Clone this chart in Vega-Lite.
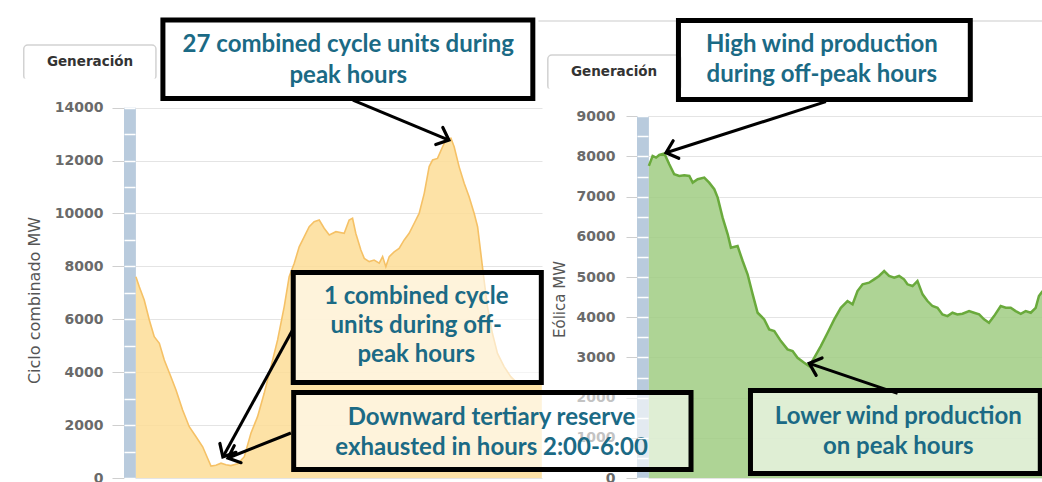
{
  "$schema": "https://vega.github.io/schema/vega-lite/v6.json",
  "autosize": {"type": "pad"},
  "padding": {"left": 22, "top": 17, "right": 0, "bottom": 0},
  "bounds": "flush",
  "spacing": 95,
  "background": "white",
  "config": {"view": {"stroke": null}, "font": "DejaVu Sans"},
  "datasets": {
    "left": [{"h":0,"v":7610},{"h":0.2,"v":7230},{"h":0.49,"v":6730},{"h":0.79,"v":5970},{"h":1.08,"v":5340},{"h":1.38,"v":5090},{"h":1.67,"v":4460},{"h":2.06,"v":3830},{"h":2.36,"v":3330},{"h":2.75,"v":2570},{"h":3.14,"v":1940},{"h":3.54,"v":1560},{"h":3.93,"v":1180},{"h":4.22,"v":745},{"h":4.42,"v":450},{"h":4.71,"v":480},{"h":5.01,"v":560},{"h":5.3,"v":500},{"h":5.59,"v":470},{"h":5.99,"v":540},{"h":6.38,"v":805},{"h":6.77,"v":1690},{"h":7.16,"v":2320},{"h":7.55,"v":3200},{"h":7.95,"v":4210},{"h":8.34,"v":5220},{"h":8.73,"v":6480},{"h":9.02,"v":7610},{"h":9.32,"v":8120},{"h":9.61,"v":8740},{"h":9.91,"v":9120},{"h":10.2,"v":9500},{"h":10.49,"v":9690},{"h":10.79,"v":9750},{"h":11.08,"v":9440},{"h":11.38,"v":9190},{"h":11.77,"v":9310},{"h":12.26,"v":9250},{"h":12.55,"v":9750},{"h":12.75,"v":9820},{"h":12.94,"v":9250},{"h":13.24,"v":8620},{"h":13.44,"v":8300},{"h":13.73,"v":8180},{"h":14.02,"v":8240},{"h":14.32,"v":8120},{"h":14.52,"v":8370},{"h":14.71,"v":7990},{"h":14.91,"v":8370},{"h":15.2,"v":8550},{"h":15.49,"v":8680},{"h":15.79,"v":9000},{"h":16.08,"v":9250},{"h":16.38,"v":9630},{"h":16.67,"v":10000},{"h":16.97,"v":10760},{"h":17.26,"v":11770},{"h":17.46,"v":12020},{"h":17.75,"v":12080},{"h":18.05,"v":12520},{"h":18.24,"v":12780},{"h":18.54,"v":12840},{"h":18.73,"v":12520},{"h":19.02,"v":11770},{"h":19.32,"v":11140},{"h":19.61,"v":10630},{"h":19.91,"v":10000},{"h":20.11,"v":9500},{"h":20.3,"v":8490},{"h":20.49,"v":7480},{"h":20.69,"v":6480},{"h":20.98,"v":5470},{"h":21.28,"v":4710},{"h":21.67,"v":4210},{"h":22.06,"v":3830},{"h":22.46,"v":3580},{"h":22.85,"v":3640},{"h":23.24,"v":3580},{"h":23.89,"v":3550}],
    "right": [{"h":0,"v":7763},{"h":0.22,"v":8012},{"h":0.42,"v":7970},{"h":0.61,"v":8037},{"h":0.91,"v":8070},{"h":1.2,"v":7806},{"h":1.49,"v":7557},{"h":1.79,"v":7514},{"h":2.08,"v":7532},{"h":2.38,"v":7514},{"h":2.58,"v":7348},{"h":2.87,"v":7432},{"h":3.26,"v":7472},{"h":3.55,"v":7348},{"h":3.85,"v":7183},{"h":4.05,"v":6974},{"h":4.34,"v":6476},{"h":4.64,"v":6063},{"h":4.83,"v":5730},{"h":5.22,"v":5772},{"h":5.52,"v":5398},{"h":5.81,"v":5067},{"h":6.11,"v":4569},{"h":6.4,"v":4111},{"h":6.79,"v":3946},{"h":7.08,"v":3697},{"h":7.38,"v":3655},{"h":7.77,"v":3406},{"h":8.16,"v":3200},{"h":8.46,"v":3157},{"h":8.75,"v":2990},{"h":9.14,"v":2866},{"h":9.44,"v":2783},{"h":9.73,"v":2990},{"h":10.12,"v":3282},{"h":10.52,"v":3613},{"h":10.91,"v":3946},{"h":11.3,"v":4235},{"h":11.69,"v":4402},{"h":11.99,"v":4319},{"h":12.28,"v":4651},{"h":12.58,"v":4818},{"h":12.96,"v":4858},{"h":13.26,"v":4942},{"h":13.55,"v":5025},{"h":13.85,"v":5149},{"h":14.14,"v":5025},{"h":14.44,"v":4982},{"h":14.73,"v":5025},{"h":15.02,"v":4942},{"h":15.22,"v":4818},{"h":15.52,"v":4776},{"h":15.81,"v":4900},{"h":16.11,"v":4569},{"h":16.4,"v":4402},{"h":16.69,"v":4278},{"h":16.99,"v":4235},{"h":17.28,"v":4070},{"h":17.58,"v":4028},{"h":17.87,"v":4111},{"h":18.16,"v":4070},{"h":18.46,"v":4086},{"h":18.85,"v":4153},{"h":19.14,"v":4111},{"h":19.44,"v":4070},{"h":19.73,"v":3946},{"h":20.02,"v":3863},{"h":20.32,"v":4028},{"h":20.71,"v":4278},{"h":21.01,"v":4235},{"h":21.3,"v":4235},{"h":21.59,"v":4153},{"h":21.89,"v":4086},{"h":22.18,"v":4153},{"h":22.48,"v":4111},{"h":22.77,"v":4235},{"h":22.96,"v":4527},{"h":23.18,"v":4651}],
    "boxesL": [{"x1":1.59,"x2":23.36,"y1":14345,"y2":17312},{"x1":9.26,"x2":23.86,"y1":3610,"y2":7768}],
    "textL": [{"t":"27 combined cycle units during","x":12.5,"y":16367},{"t":"peak hours","x":12.5,"y":15196},{"t":"1 combined cycle","x":16.5,"y":6842},{"t":"units during off-","x":16.5,"y":5746},{"t":"peak hours","x":16.5,"y":4649}],
    "arrowsL": [{"x1":12.77,"y1":14288,"x2":18.42,"y2":12776,"ang":112.6},{"x1":9.22,"y1":5594,"x2":5.12,"y2":794,"ang":208.8},{"x1":9.12,"y1":1701,"x2":5.42,"y2":756,"ang":248.4}],
    "tabL": [{"x1":-6.6,"x2":1.18,"y1":15044,"y2":16367,"t":"Generación","tx":-2.7,"ty":15725}],
    "boxesR": [{"x1":1.74,"x2":18.92,"y1":9416,"y2":11381},{"x1":5.98,"x2":23.04,"y1":112,"y2":2177},{"x1":-20.91,"x2":2.48,"y1":211,"y2":2127}],
    "textR": [{"t":"High wind production","x":10.18,"y":10771},{"t":"during off-peak hours","x":10.18,"y":10025},{"t":"Lower wind production","x":14.68,"y":1525},{"t":"on peak hours","x":14.68,"y":779},{"t":"Downward tertiary reserve","x":-9.26,"y":1493},{"t":"exhausted in hours 2:00-6:00","x":-9.26,"y":746}],
    "arrowsR": [{"x1":10.42,"y1":9361,"x2":1.01,"y2":8092,"ang":252.3},{"x1":14.64,"y1":2107,"x2":9.44,"y2":2853,"ang":288.7}],
    "tabR": [{"x1":-5.95,"x2":1.9,"y1":9652,"y2":10523,"t":"Generación","tx":-2.05,"ty":10100}],
    "topline": [{"x1":-6.5,"x2":23.2,"y":11368}]
  },
  "hconcat": [
    {
      "width": 418,
      "height": 460,
      "resolve": {"axis": {"y": "independent"}},
      "layer": [
        {
          "data": {"values": [{}]},
          "mark": {"type": "rect", "color": "#b9cbdd"},
          "encoding": {
            "x": {"datum": -0.7, "type": "quantitative", "scale": {"domain": [-0.7, 23.9], "nice": false, "zero": false}, "axis": null},
            "x2": {"datum": 0},
            "y": {"datum": 0, "type": "quantitative", "scale": {"domain": [0, 17388], "nice": false, "zero": false},
                  "axis": {"orient": "left", "values": [0,1000,2000,3000,4000,5000,6000,7000,8000,9000,10000,11000,12000,13000,14000], "offset": -11, "tickSize": 11, "tickColor": "white", "tickWidth": 1.5, "labels": false, "domain": false, "grid": false, "title": null, "zindex": 1}},
            "y2": {"datum": 14000}
          }
        },
        {
          "data": {"name": "left"},
          "mark": {"type": "area", "color": "#fddd96", "opacity": 0.85},
          "encoding": {
            "x": {"field": "h", "type": "quantitative", "scale": {"domain": [-0.7, 23.9], "nice": false, "zero": false}, "axis": null},
            "y": {"field": "v", "type": "quantitative", "scale": {"domain": [0, 17388], "nice": false, "zero": false},
                  "axis": {"orient": "left", "values": [0,2000,4000,6000,8000,10000,12000,14000], "format": "d", "grid": true, "gridColor": "#e4e4e4", "domain": false, "tickColor": "#cfcfcf", "tickSize": 12, "labelPadding": 9, "labelFont": "DejaVu Sans", "labelFontSize": 14, "labelFontWeight": "bold", "labelColor": "#6a6a6a", "title": "Ciclo combinado MW", "titleFont": "DejaVu Sans", "titleFontSize": 16, "titleFontWeight": "normal", "titleColor": "#555555", "titleX": -90, "titleY": 282, "titleAngle": -90, "titleAlign": "center", "titleBaseline": "middle", "zindex": 0}}
          }
        },
        {
          "data": {"name": "left"},
          "mark": {"type": "line", "color": "#f5c166", "strokeWidth": 1.6},
          "encoding": {
            "x": {"field": "h", "type": "quantitative", "scale": {"domain": [-0.7, 23.9], "nice": false, "zero": false}, "axis": null},
            "y": {"field": "v", "type": "quantitative", "scale": {"domain": [0, 17388], "nice": false, "zero": false}, "axis": null}
          }
        },
        {
          "data": {"name": "tabL"},
          "mark": {"type": "rect", "fill": "white", "stroke": "#d2d2d2", "strokeWidth": 1.5, "cornerRadius": 4},
          "encoding": {
            "x": {"field": "x1", "type": "quantitative", "scale": {"domain": [-0.7, 23.9], "nice": false, "zero": false}, "axis": null},
            "x2": {"field": "x2"},
            "y": {"field": "y1", "type": "quantitative", "scale": {"domain": [0, 17388], "nice": false, "zero": false}, "axis": null},
            "y2": {"field": "y2"}
          }
        },
        {
          "data": {"name": "tabL"},
          "mark": {"type": "rule", "color": "white", "strokeWidth": 3},
          "encoding": {
            "x": {"field": "x1", "type": "quantitative", "scale": {"domain": [-0.7, 23.9], "nice": false, "zero": false}, "axis": null},
            "x2": {"field": "x2"},
            "y": {"field": "y1", "type": "quantitative", "scale": {"domain": [0, 17388], "nice": false, "zero": false}, "axis": null}
          }
        },
        {
          "data": {"name": "tabL"},
          "mark": {"type": "text", "font": "DejaVu Sans", "fontSize": 13.5, "fontWeight": "bold", "color": "#333333", "align": "center", "baseline": "middle"},
          "encoding": {
            "x": {"field": "tx", "type": "quantitative", "scale": {"domain": [-0.7, 23.9], "nice": false, "zero": false}, "axis": null},
            "y": {"field": "ty", "type": "quantitative", "scale": {"domain": [0, 17388], "nice": false, "zero": false}, "axis": null},
            "text": {"field": "t"}
          }
        },
        {
          "data": {"name": "boxesL"},
          "mark": {"type": "rect", "fill": "white", "fillOpacity": 0.6, "stroke": "black", "strokeWidth": 5},
          "encoding": {
            "x": {"field": "x1", "type": "quantitative", "scale": {"domain": [-0.7, 23.9], "nice": false, "zero": false}, "axis": null},
            "x2": {"field": "x2"},
            "y": {"field": "y1", "type": "quantitative", "scale": {"domain": [0, 17388], "nice": false, "zero": false}, "axis": null},
            "y2": {"field": "y2"}
          }
        },
        {
          "data": {"name": "textL"},
          "mark": {"type": "text", "font": "Lato", "fontSize": 24, "fontWeight": "bold", "color": "#1b6a85", "align": "center", "baseline": "middle"},
          "encoding": {
            "x": {"field": "x", "type": "quantitative", "scale": {"domain": [-0.7, 23.9], "nice": false, "zero": false}, "axis": null},
            "y": {"field": "y", "type": "quantitative", "scale": {"domain": [0, 17388], "nice": false, "zero": false}, "axis": null},
            "text": {"field": "t"}
          }
        },
        {
          "data": {"name": "arrowsL"},
          "mark": {"type": "rule", "color": "black", "strokeWidth": 3},
          "encoding": {
            "x": {"field": "x1", "type": "quantitative", "scale": {"domain": [-0.7, 23.9], "nice": false, "zero": false}, "axis": null},
            "x2": {"field": "x2"},
            "y": {"field": "y1", "type": "quantitative", "scale": {"domain": [0, 17388], "nice": false, "zero": false}, "axis": null},
            "y2": {"field": "y2"}
          }
        },
        {
          "data": {"name": "arrowsL"},
          "mark": {"type": "point", "shape": "M-0.75,0.85L0,0L0.75,0.85", "filled": false, "stroke": "black", "strokeWidth": 3.2, "strokeCap": "round", "size": 600, "opacity": 1},
          "encoding": {
            "x": {"field": "x2", "type": "quantitative", "scale": {"domain": [-0.7, 23.9], "nice": false, "zero": false}, "axis": null},
            "y": {"field": "y2", "type": "quantitative", "scale": {"domain": [0, 17388], "nice": false, "zero": false}, "axis": null},
            "angle": {"field": "ang", "type": "quantitative", "scale": null}
          }
        }
      ]
    },
    {
      "width": 406,
      "height": 460,
      "resolve": {"axis": {"y": "independent"}},
      "layer": [
        {
          "data": {"name": "topline"},
          "mark": {"type": "rule", "color": "#dcdcdc", "strokeWidth": 1.5},
          "encoding": {
            "x": {"field": "x1", "type": "quantitative", "scale": {"domain": [-0.7, 23.2], "nice": false, "zero": false}, "axis": null},
            "x2": {"field": "x2"},
            "y": {"field": "y", "type": "quantitative", "scale": {"domain": [0, 11443], "nice": false, "zero": false}, "axis": null}
          }
        },
        {
          "data": {"values": [{}]},
          "mark": {"type": "rect", "color": "#b9cbdd"},
          "encoding": {
            "x": {"datum": -0.7, "type": "quantitative", "scale": {"domain": [-0.7, 23.2], "nice": false, "zero": false}, "axis": null},
            "x2": {"datum": 0},
            "y": {"datum": 0, "type": "quantitative", "scale": {"domain": [0, 11443], "nice": false, "zero": false},
                  "axis": {"orient": "left", "values": [0,500,1000,1500,2000,2500,3000,3500,4000,4500,5000,5500,6000,6500,7000,7500,8000,8500,9000], "offset": -11, "tickSize": 11, "tickColor": "white", "tickWidth": 1.5, "labels": false, "domain": false, "grid": false, "title": null, "zindex": 1}},
            "y2": {"datum": 9000}
          }
        },
        {
          "data": {"name": "right"},
          "mark": {"type": "area", "color": "#a0cd82", "opacity": 0.85},
          "encoding": {
            "x": {"field": "h", "type": "quantitative", "scale": {"domain": [-0.7, 23.2], "nice": false, "zero": false}, "axis": null},
            "y": {"field": "v", "type": "quantitative", "scale": {"domain": [0, 11443], "nice": false, "zero": false},
                  "axis": {"orient": "left", "values": [0,1000,2000,3000,4000,5000,6000,7000,8000,9000], "format": "d", "grid": true, "gridColor": "#e4e4e4", "domain": false, "tickColor": "#cfcfcf", "tickSize": 11, "labelPadding": 11, "labelFont": "DejaVu Sans", "labelFontSize": 14, "labelFontWeight": "bold", "labelColor": "#6a6a6a", "title": "Eólica MW", "titleFont": "DejaVu Sans", "titleFontSize": 15, "titleFontWeight": "normal", "titleColor": "#555555", "titleX": -78, "titleY": 281, "titleAngle": -90, "titleAlign": "center", "titleBaseline": "middle", "zindex": 0}}
          }
        },
        {
          "data": {"name": "right"},
          "mark": {"type": "line", "color": "#6aaa3c", "strokeWidth": 2.5},
          "encoding": {
            "x": {"field": "h", "type": "quantitative", "scale": {"domain": [-0.7, 23.2], "nice": false, "zero": false}, "axis": null},
            "y": {"field": "v", "type": "quantitative", "scale": {"domain": [0, 11443], "nice": false, "zero": false}, "axis": null}
          }
        },
        {
          "data": {"name": "tabR"},
          "mark": {"type": "rect", "fill": "white", "stroke": "#d2d2d2", "strokeWidth": 1.5, "cornerRadius": 4},
          "encoding": {
            "x": {"field": "x1", "type": "quantitative", "scale": {"domain": [-0.7, 23.2], "nice": false, "zero": false}, "axis": null},
            "x2": {"field": "x2"},
            "y": {"field": "y1", "type": "quantitative", "scale": {"domain": [0, 11443], "nice": false, "zero": false}, "axis": null},
            "y2": {"field": "y2"}
          }
        },
        {
          "data": {"name": "tabR"},
          "mark": {"type": "rule", "color": "white", "strokeWidth": 3},
          "encoding": {
            "x": {"field": "x1", "type": "quantitative", "scale": {"domain": [-0.7, 23.2], "nice": false, "zero": false}, "axis": null},
            "x2": {"field": "x2"},
            "y": {"field": "y1", "type": "quantitative", "scale": {"domain": [0, 11443], "nice": false, "zero": false}, "axis": null}
          }
        },
        {
          "data": {"name": "tabR"},
          "mark": {"type": "text", "font": "DejaVu Sans", "fontSize": 13.5, "fontWeight": "bold", "color": "#333333", "align": "center", "baseline": "middle"},
          "encoding": {
            "x": {"field": "tx", "type": "quantitative", "scale": {"domain": [-0.7, 23.2], "nice": false, "zero": false}, "axis": null},
            "y": {"field": "ty", "type": "quantitative", "scale": {"domain": [0, 11443], "nice": false, "zero": false}, "axis": null},
            "text": {"field": "t"}
          }
        },
        {
          "data": {"name": "boxesR"},
          "mark": {"type": "rect", "fill": "white", "fillOpacity": 0.6, "stroke": "black", "strokeWidth": 5},
          "encoding": {
            "x": {"field": "x1", "type": "quantitative", "scale": {"domain": [-0.7, 23.2], "nice": false, "zero": false}, "axis": null},
            "x2": {"field": "x2"},
            "y": {"field": "y1", "type": "quantitative", "scale": {"domain": [0, 11443], "nice": false, "zero": false}, "axis": null},
            "y2": {"field": "y2"}
          }
        },
        {
          "data": {"name": "textR"},
          "mark": {"type": "text", "font": "Lato", "fontSize": 24, "fontWeight": "bold", "color": "#1b6a85", "align": "center", "baseline": "middle"},
          "encoding": {
            "x": {"field": "x", "type": "quantitative", "scale": {"domain": [-0.7, 23.2], "nice": false, "zero": false}, "axis": null},
            "y": {"field": "y", "type": "quantitative", "scale": {"domain": [0, 11443], "nice": false, "zero": false}, "axis": null},
            "text": {"field": "t"}
          }
        },
        {
          "data": {"name": "arrowsR"},
          "mark": {"type": "rule", "color": "black", "strokeWidth": 3},
          "encoding": {
            "x": {"field": "x1", "type": "quantitative", "scale": {"domain": [-0.7, 23.2], "nice": false, "zero": false}, "axis": null},
            "x2": {"field": "x2"},
            "y": {"field": "y1", "type": "quantitative", "scale": {"domain": [0, 11443], "nice": false, "zero": false}, "axis": null},
            "y2": {"field": "y2"}
          }
        },
        {
          "data": {"name": "arrowsR"},
          "mark": {"type": "point", "shape": "M-0.75,0.85L0,0L0.75,0.85", "filled": false, "stroke": "black", "strokeWidth": 3.2, "strokeCap": "round", "size": 600, "opacity": 1},
          "encoding": {
            "x": {"field": "x2", "type": "quantitative", "scale": {"domain": [-0.7, 23.2], "nice": false, "zero": false}, "axis": null},
            "y": {"field": "y2", "type": "quantitative", "scale": {"domain": [0, 11443], "nice": false, "zero": false}, "axis": null},
            "angle": {"field": "ang", "type": "quantitative", "scale": null}
          }
        }
      ]
    }
  ]
}
